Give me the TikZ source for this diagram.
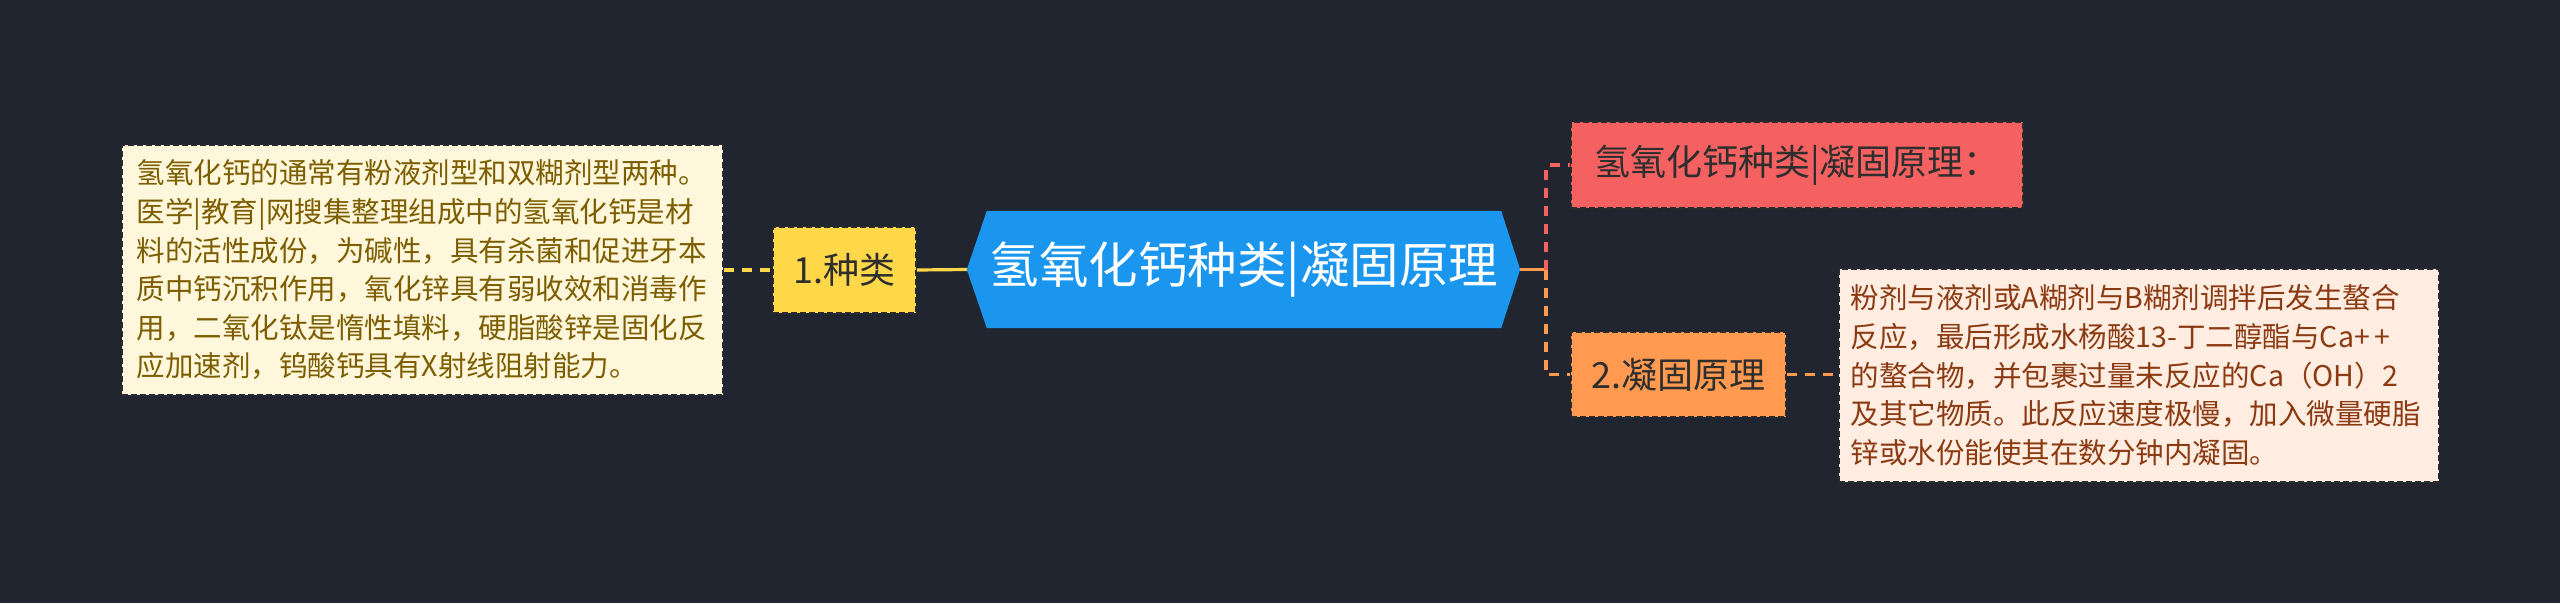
\documentclass[tikz,border=0pt]{standalone}
\usepackage{fontspec}
\setmainfont{Noto Sans CJK SC}
\definecolor{bgc}{HTML}{21252F}
\definecolor{creamfill}{HTML}{FFF7DC}
\definecolor{creamtext}{HTML}{7C5E00}
\definecolor{yel}{HTML}{FFD84A}
\definecolor{hubblue}{HTML}{1B96EF}
\definecolor{redc}{HTML}{F56161}
\definecolor{orc}{HTML}{FF9A50}
\definecolor{peachfill}{HTML}{FFEDE1}
\definecolor{peachtext}{HTML}{8B3A12}
\definecolor{darktext}{HTML}{2E2E2E}
\definecolor{bordc}{HTML}{2A2A2A}
\pgfdeclarelayer{back}
\pgfsetlayers{back,main}
\tikzset{
  boxborder/.style={draw=bordc, line width=1.6pt, dash pattern=on 6pt off 3pt},
  descbox/.style={boxborder, rectangle, anchor=north west, align=left,
    font=\fontsize{28.5pt}{38.6pt}\selectfont, inner ysep=8pt},
  subbox/.style={boxborder, rectangle, inner sep=0pt, text=darktext,
    font=\fontsize{36pt}{44pt}\selectfont},
  link/.style={line width=3.2pt},
  dlink/.style={line width=3.2pt, dash pattern=on 10pt off 8pt},
}
\begin{document}
\begin{tikzpicture}[x=1pt,y=-1pt]
\useasboundingbox (0,0) rectangle (2560,603);
% nodes
\node[descbox, fill=creamfill, text=creamtext, inner xsep=15pt, text width=571pt,
  minimum height=250pt] (desc1) at (121,144)
  {氢氧化钙的通常有粉液剂型和双糊剂型两种。\\
   医学|教育|网搜集整理组成中的氢氧化钙是材\\
   料的活性成份，为碱性，具有杀菌和促进牙本\\
   质中钙沉积作用，氧化锌具有弱收效和消毒作\\
   用，二氧化钛是惰性填料，硬脂酸锌是固化反\\
   应加速剂，钨酸钙具有X射线阻射能力。};
\node[subbox, fill=yel, minimum width=143pt, minimum height=86pt] (kind) at (844.5,270) {1.种类};
\node[rectangle, inner sep=0pt, minimum width=514pt, minimum height=117pt, text=white,
  font=\fontsize{49.5pt}{56pt}\selectfont] (hub) at (1244,269.5) {氢氧化钙种类|凝固原理};
\node[subbox, fill=redc, minimum width=452pt, minimum height=86pt] (princ) at (1797,165) {氢氧化钙种类|凝固原理：};
\node[subbox, fill=orc, minimum width=215pt, minimum height=85pt] (setting) at (1678.5,374.5) {2.凝固原理};
\node[descbox, fill=peachfill, text=peachtext, inner xsep=12pt, text width=576pt,
  minimum height=213pt] (desc2) at (1838,268)
  {粉剂与液剂或A糊剂与B糊剂调拌后发生螯合\\
   反应，最后形成水杨酸13-丁二醇酯与Ca+\,+\\
   的螯合物，并包裹过量未反应的Ca（OH）2\\
   及其它物质。此反应速度极慢，加入微量硬脂\\
   锌或水份能使其在数分钟内凝固。};
\coordinate (hubL) at ([xshift=-20pt]hub.west);
\coordinate (hubR) at ([xshift=19pt]hub.east);
\coordinate (junc) at (1546,269.5);
\begin{pgfonlayer}{back}
  \fill[bgc] (0,0) rectangle (2560,603);
  % connectors
  \draw[dlink, yel] (desc1.east |- kind.west) -- (kind.west);
  \draw[link, yel] (kind.east) -- (hubL);
  \draw[link, orc] (hubR) -- (junc);
  \draw[dlink, redc] (junc) |- (princ.west);
  \draw[dlink, orc] (junc) |- (setting.west);
  \draw[dlink, orc] (setting.east) -- (setting.east -| desc2.west);
  % hub hexagon
  \fill[hubblue] (hub.north west) -- (hub.north east) -- (hubR) -- (hub.south east)
    -- (hub.south west) -- (hubL) -- cycle;
\end{pgfonlayer}
\end{tikzpicture}
\end{document}
